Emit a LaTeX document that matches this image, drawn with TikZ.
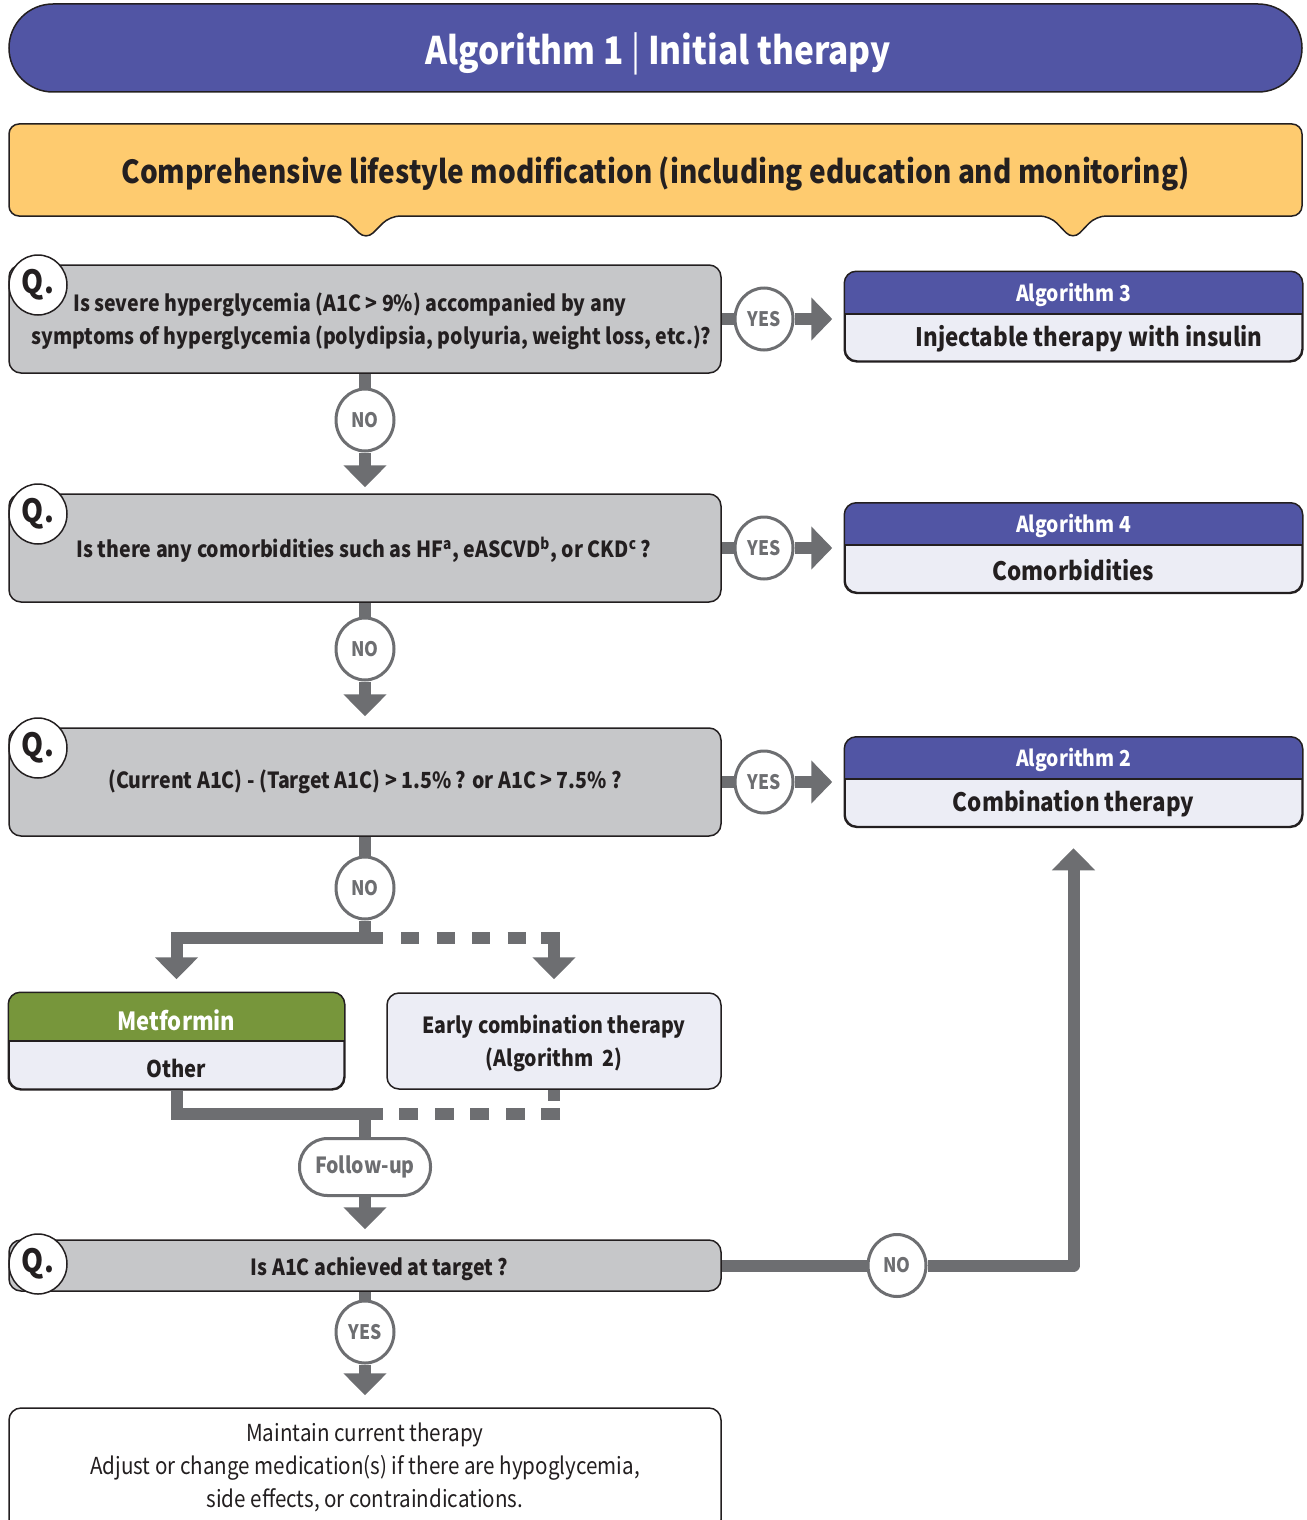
\documentclass[tikz,border=0pt]{standalone}
\usepackage{fontspec}
\setmainfont{Noto Sans CJK KR}[FakeStretch=0.88]
\usetikzlibrary{arrows.meta,shapes.geometric}
\definecolor{purp}{HTML}{5155A4}
\definecolor{yel}{HTML}{FECB6F}
\definecolor{qgray}{HTML}{C6C7C9}
\definecolor{cgray}{HTML}{6D6E71}
\definecolor{lav}{HTML}{ECEDF5}
\definecolor{grn}{HTML}{77963B}
\definecolor{dk}{HTML}{231F20}
\newcommand{\fs}[2]{\fontsize{#1}{#2}\selectfont}
\begin{document}
\begin{tikzpicture}[x=0.5pt,y=-0.5pt,
  bord/.style={draw=dk, line width=0.75pt},
  qbox/.style={bord, fill=qgray, rounded corners=6pt, minimum width=356pt, inner sep=0pt},
  qmark/.style={ellipse, bord, fill=white, minimum width=29pt, minimum height=30pt, inner sep=0pt, font=\fs{16}{16}\bfseries, text=dk},
  lab/.style={ellipse, draw=cgray, line width=1.5pt, fill=white, minimum width=29pt, minimum height=31pt, inner sep=0pt, text=cgray, font=\fs{10}{10}\bfseries},
  conn/.style={draw=cgray, line width=6pt},
  tip/.style={-{Triangle[length=11pt,width=21pt]}},
  sidetip/.style={-{Triangle[length=10.5pt,width=21pt]}},
  qtext/.style={text=dk, font=\fs{11.1}{16.5}\bfseries, align=center},
  hdtext/.style={text=white, font=\fs{11}{11}\bfseries},
  bdtext/.style={text=dk, font=\fs{12.7}{12.7}\bfseries},
  algbox/.style={bord, fill=lav, rounded corners=6pt, minimum width=228.5pt, minimum height=44.5pt, inner sep=0pt}
]
\useasboundingbox (0,0) rectangle (1306,1520);

% title
\node[bord, fill=purp, rounded corners=22pt, minimum width=646.5pt, minimum height=44pt] (title) at (655.5,48) {};
\node[text=white, font=\fs{19}{19}\bfseries] (titlet) at (658,54) {Algorithm 1 {\mdseries|} Initial therapy};

% lifestyle box
\draw[bord, fill=yel, rounded corners=5pt] (9,124) -- (1302,124) -- (1302,216) -- (1096,216) -- (1073,240) -- (1050,216) -- (390,216) -- (366,240) -- (342,216) -- (9,216) -- cycle;
\node[text=dk, font=\fs{15.9}{15.9}\bfseries] (life) at (655.5,173.5) {Comprehensive lifestyle modification (including education and monitoring)};

% question boxes
\node[qbox, minimum height=54pt] (q1) at (365,319) {};
\node[qtext] (q1t) at (371.5,321) {Is severe hyperglycemia (A1C > 9\%) accompanied by any\hspace*{21.5pt}\\symptoms of hyperglycemia (polydipsia, polyuria, weight loss, etc.)?};
\node[qmark] (qm1) at (38,285) {Q.};

\node[qbox, minimum height=54pt] (q2) at (365,548) {};
\node[qtext] (q2t) at (364,550) {Is there any comorbidities such as HF\textsuperscript{a}, eASCVD\textsuperscript{b}, or CKD\textsuperscript{c}\,?};
\node[qmark] (qm2) at (38,514) {Q.};

\node[qbox, minimum height=54pt] (q3) at (365,782) {};
\node[qtext] (q3t) at (365,782) {(Current A1C) - (Target A1C) > 1.5\% ? or A1C > 7.5\% ?};
\node[qmark] (qm3) at (38,748) {Q.};

\node[qbox, minimum height=25.5pt] (q4) at (365,1265.5) {};
\node[qtext] (q4t) at (379.5,1269) {Is A1C achieved at target ?};
\node[qmark] (qm4) at (38,1264) {Q.};

% algorithm boxes
\newcommand{\algbox}[5]{% name, center y, header top y, header bottom y, color
  \node[algbox] (#1) at (1073.5,#2) {};
  \begin{scope}
    \clip (840,#3) rectangle (1310,#4);
    \fill[#5, rounded corners=6pt] (#1.north west) rectangle (#1.south east);
  \end{scope}
  \draw[bord] (845,#4) -- (1302,#4);
  \draw[bord, rounded corners=6pt] (#1.north west) rectangle (#1.south east);
}
\algbox{alg3}{316.5}{272}{314}{purp}
\node[hdtext] (alg3h) at (1073.5,295) {Algorithm 3};
\node[bdtext] (alg3b) at (1089,339) {Injectable therapy with insulin};

\algbox{alg4}{548}{503}{545}{purp}
\node[hdtext] (alg4h) at (1073.5,526) {Algorithm 4};
\node[bdtext] (alg4b) at (1073.5,570) {Comorbidities};

\algbox{alg2}{782}{737}{779}{purp}
\node[hdtext] (alg2h) at (1073.5,760) {Algorithm 2};
\node[bdtext] (alg2b) at (1073.5,804) {Combination therapy};

% metformin & early boxes
\node[bord, fill=lav, rounded corners=6pt, minimum width=167.5pt, minimum height=48pt, inner sep=0pt] (met) at (176.5,1041) {};
\begin{scope}
  \clip (0,993) rectangle (350,1041);
  \fill[grn, rounded corners=6pt] (met.north west) rectangle (met.south east);
\end{scope}
\draw[bord] (9,1041) -- (344,1041);
\draw[bord, rounded corners=6pt] (met.north west) rectangle (met.south east);
\node[text=white, font=\fs{12.5}{12.5}\bfseries] (meth) at (176.5,1020) {Metformin};
\node[text=dk, font=\fs{11.5}{11.5}\bfseries] (metb) at (176.5,1068) {Other};

\node[bord, fill=lav, rounded corners=6pt, minimum width=167pt, minimum height=48pt, inner sep=0pt] (early) at (554,1041) {};
\node[qtext] (earlyt) at (554,1043) {Early combination therapy\\(Algorithm~~2)};

% follow-up
\node[draw=cgray, line width=1.5pt, fill=white, rounded corners=14pt, minimum width=65.5pt, minimum height=28.5pt, inner sep=0pt, text=cgray, font=\fs{11.1}{11.1}\bfseries] (fu) at (365,1167) {Follow-up};

% final box
\node[bord, fill=white, rounded corners=6pt, minimum width=356pt, minimum height=62pt, inner sep=0pt] (fin) at (365,1470) {};
\node[text=dk, font=\fs{11.7}{16.5}\selectfont, align=center] (fint) at (365,1467) {Maintain current therapy\\Adjust or change medication(s) if there are hypoglycemia,\\side effects, or contraindications.};

% labels
\node[lab] (yes1) at (764,319) {YES};
\node[lab] (yes2) at (764,548) {YES};
\node[lab] (yes3) at (764,782) {YES};
\node[lab] (no1) at (365,420) {NO};
\node[lab] (no2) at (365,649) {NO};
\node[lab] (no3) at (365,888) {NO};
\node[lab] (yes4) at (365,1332) {YES};
\node[lab] (noR) at (897,1265.5) {NO};

% connectors: YES to the right
\draw[conn] (q1.east) -- (yes1.west);
\draw[conn, sidetip, shorten >=6pt] (yes1.east) -- (yes1 -| alg3.west);
\draw[conn] (q2.east) -- (yes2.west);
\draw[conn, sidetip, shorten >=6pt] (yes2.east) -- (yes2 -| alg4.west);
\draw[conn] (q3.east) -- (yes3.west);
\draw[conn, sidetip, shorten >=6pt] (yes3.east) -- (yes3 -| alg2.west);

% connectors: NO downward
\draw[conn] (q1.south) -- (no1.north);
\draw[conn, tip, shorten >=3pt] (no1.south) -- (q2.north);
\draw[conn] (q2.south) -- (no2.north);
\draw[conn, tip, shorten >=5.5pt] (no2.south) -- (q3.north);

% branching
\coordinate (j1) at (365,938);
\coordinate (j1e) at (383,938);
\coordinate (d1s) at (401,938);
\coordinate (d1e) at (527,938);
\coordinate (d1c) at (541,938);
\draw[conn] (q3.south) -- (no3.north);
\draw[conn, tip, shorten >=6.5pt] (no3.south) -- (j1) -| (met.north);
\draw[conn] (j1) -- (j1e);
\draw[conn, dash pattern=on 9pt off 8.75pt] (d1s) -- (d1e);
\draw[conn, tip, shorten >=6.5pt] (d1c) -| (early.north);

% merging
\coordinate (j2) at (365,1114);
\coordinate (j2e) at (383,1114);
\coordinate (d2s) at (560,1114);
\draw[conn] (met.south) |- (j2) -- (j2e);
\draw[conn] (early.south) -- ++(0,11);
\draw[conn, dash pattern=on 9.5pt off 8.25pt] (d2s) -- (j2e);
\draw[conn] (j2) -- (fu.north);
\draw[conn, tip, shorten >=5pt] (fu.south) -- (q4.north);

% final question
\draw[conn] (q4.east) -- (noR.west);
\draw[conn, tip, line join=round, shorten >=10.5pt] (noR.east) -| (alg2.south);
\draw[conn] (q4.south) -- (yes4.north);
\draw[conn, tip, shorten >=6pt] (yes4.south) -- (fin.north);
\end{tikzpicture}
\end{document}
